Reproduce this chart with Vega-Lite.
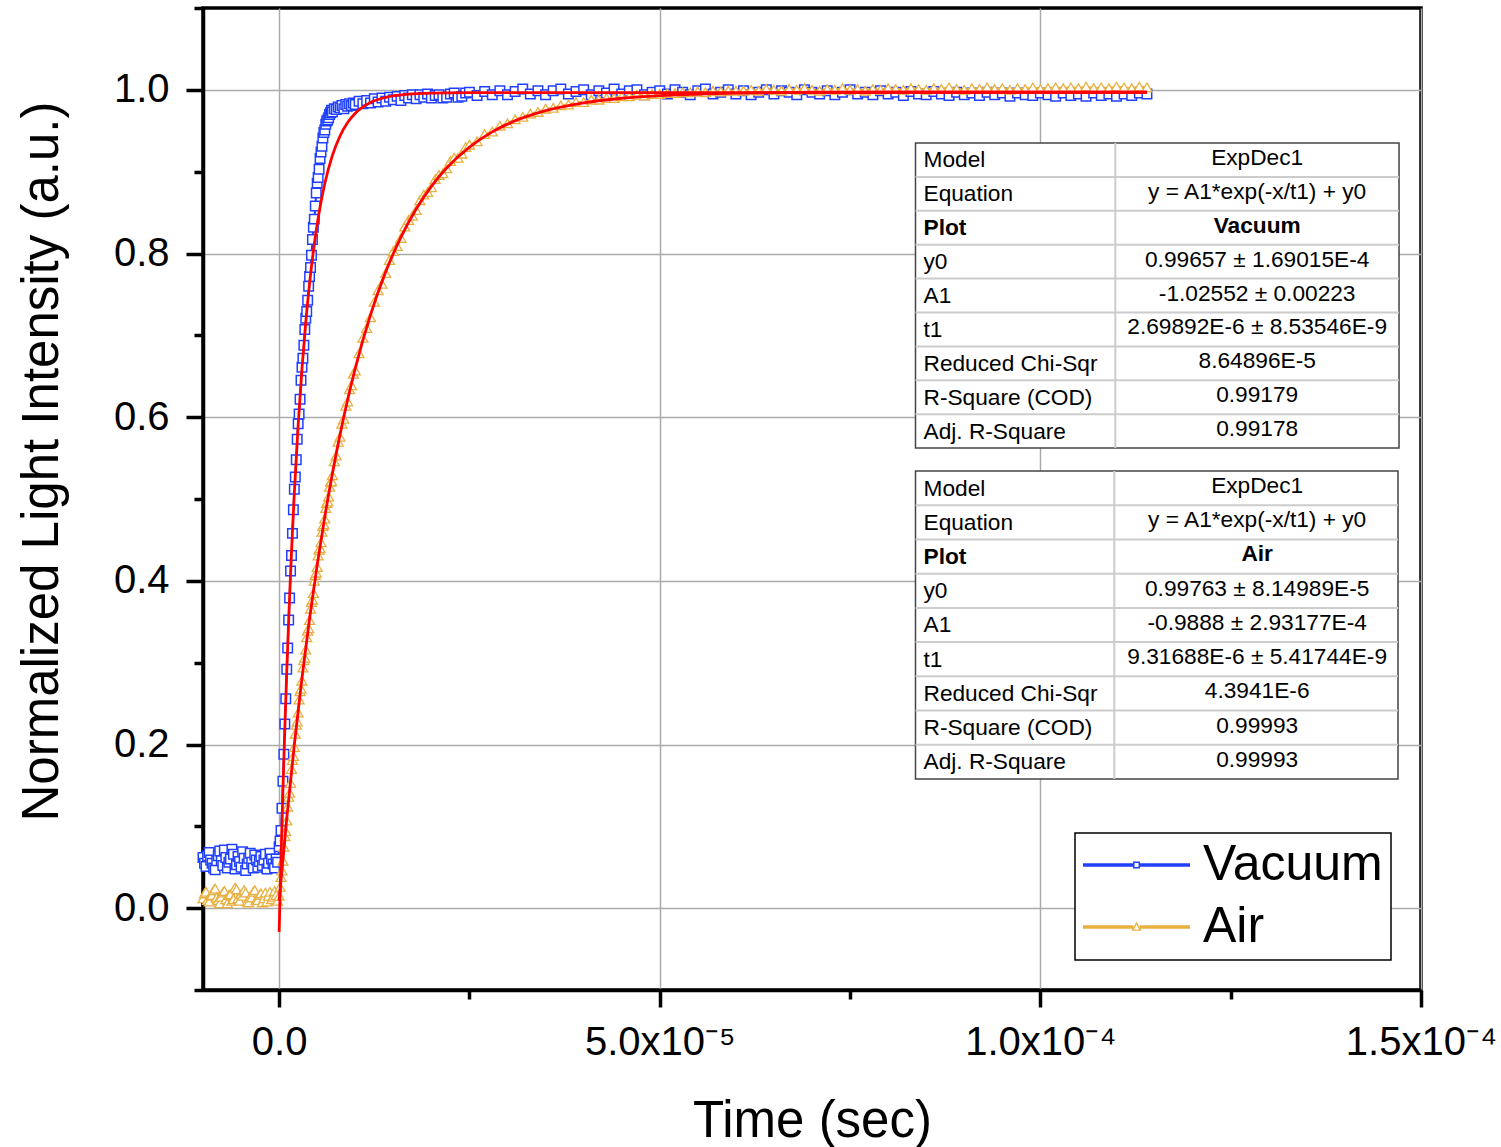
{
  "$schema": "https://vega.github.io/schema/vega-lite/v6.json",
  "width": 1218,
  "height": 982,
  "autosize": {"type": "none"},
  "padding": {"left": 203, "top": 8, "right": 80, "bottom": 157},
  "background": "white",
  "config": {
    "font": "Liberation Sans",
    "view": {"stroke": "black", "strokeWidth": 3.5},
    "axis": {
      "domainColor": "black",
      "domainWidth": 3.5,
      "tickColor": "black",
      "tickWidth": 3.5,
      "gridColor": "#ababab",
      "gridWidth": 1.5,
      "labelFont": "Liberation Sans",
      "labelFontSize": 40,
      "labelColor": "black",
      "titleFont": "Liberation Sans",
      "titleFontSize": 51,
      "titleFontWeight": "normal",
      "titleColor": "black",
      "labelOverlap": false,
      "labelFlush": false
    },
    "legend": {
      "strokeColor": "black",
      "strokeWidth": 1.5,
      "fillColor": "white",
      "padding": 8,
      "labelFont": "Liberation Sans",
      "labelLimit": 500
    }
  },
  "datasets": {
    "tbl": [
      {"plot": "Vacuum", "row": 0, "param": "Model", "value": "ExpDec1"},
      {"plot": "Vacuum", "row": 1, "param": "Equation", "value": "y = A1*exp(-x/t1) + y0"},
      {"plot": "Vacuum", "row": 2, "param": "Plot", "value": "Vacuum"},
      {"plot": "Vacuum", "row": 3, "param": "y0", "value": "0.99657 ± 1.69015E-4"},
      {"plot": "Vacuum", "row": 4, "param": "A1", "value": "-1.02552 ± 0.00223"},
      {"plot": "Vacuum", "row": 5, "param": "t1", "value": "2.69892E-6 ± 8.53546E-9"},
      {"plot": "Vacuum", "row": 6, "param": "Reduced Chi-Sqr", "value": "8.64896E-5"},
      {"plot": "Vacuum", "row": 7, "param": "R-Square (COD)", "value": "0.99179"},
      {"plot": "Vacuum", "row": 8, "param": "Adj. R-Square", "value": "0.99178"},
      {"plot": "Air", "row": 0, "param": "Model", "value": "ExpDec1"},
      {"plot": "Air", "row": 1, "param": "Equation", "value": "y = A1*exp(-x/t1) + y0"},
      {"plot": "Air", "row": 2, "param": "Plot", "value": "Air"},
      {"plot": "Air", "row": 3, "param": "y0", "value": "0.99763 ± 8.14989E-5"},
      {"plot": "Air", "row": 4, "param": "A1", "value": "-0.9888 ± 2.93177E-4"},
      {"plot": "Air", "row": 5, "param": "t1", "value": "9.31688E-6 ± 5.41744E-9"},
      {"plot": "Air", "row": 6, "param": "Reduced Chi-Sqr", "value": "4.3941E-6"},
      {"plot": "Air", "row": 7, "param": "R-Square (COD)", "value": "0.99993"},
      {"plot": "Air", "row": 8, "param": "Adj. R-Square", "value": "0.99993"}
    ]
  },
  "layer": [
    {
      "data": {"values": [
      {"t": -1.0e-5, "vacuum": 0.062, "air": 0.012},
      {"t": -9.8e-6, "vacuum": 0.055, "air": 0.018},
      {"t": -9.6e-6, "vacuum": 0.051, "air": 0.020},
      {"t": -9.4e-6, "vacuum": 0.064, "air": 0.010},
      {"t": -9.2e-6, "vacuum": 0.068, "air": 0.008},
      {"t": -9.0e-6, "vacuum": 0.059, "air": 0.015},
      {"t": -8.8e-6, "vacuum": 0.055, "air": 0.016},
      {"t": -8.6e-6, "vacuum": 0.049, "air": 0.022},
      {"t": -8.4e-6, "vacuum": 0.047, "air": 0.024},
      {"t": -8.2e-6, "vacuum": 0.058, "air": 0.013},
      {"t": -8.0e-6, "vacuum": 0.064, "air": 0.010},
      {"t": -7.8e-6, "vacuum": 0.070, "air": 0.006},
      {"t": -7.6e-6, "vacuum": 0.058, "air": 0.014},
      {"t": -7.4e-6, "vacuum": 0.052, "air": 0.019},
      {"t": -7.2e-6, "vacuum": 0.071, "air": 0.021},
      {"t": -7.0e-6, "vacuum": 0.062, "air": 0.011},
      {"t": -6.8e-6, "vacuum": 0.049, "air": 0.006},
      {"t": -6.6e-6, "vacuum": 0.056, "air": 0.016},
      {"t": -6.4e-6, "vacuum": 0.060, "air": 0.017},
      {"t": -6.2e-6, "vacuum": 0.072, "air": 0.009},
      {"t": -6.0e-6, "vacuum": 0.066, "air": 0.011},
      {"t": -5.8e-6, "vacuum": 0.048, "air": 0.025},
      {"t": -5.6e-6, "vacuum": 0.053, "air": 0.023},
      {"t": -5.4e-6, "vacuum": 0.063, "air": 0.012},
      {"t": -5.2e-6, "vacuum": 0.057, "air": 0.009},
      {"t": -5.0e-6, "vacuum": 0.050, "air": 0.017},
      {"t": -4.8e-6, "vacuum": 0.069, "air": 0.015},
      {"t": -4.6e-6, "vacuum": 0.061, "air": 0.022},
      {"t": -4.4e-6, "vacuum": 0.046, "air": 0.019},
      {"t": -4.2e-6, "vacuum": 0.054, "air": 0.008},
      {"t": -4.0e-6, "vacuum": 0.061, "air": 0.007},
      {"t": -3.8e-6, "vacuum": 0.067, "air": 0.014},
      {"t": -3.6e-6, "vacuum": 0.056, "air": 0.013},
      {"t": -3.4e-6, "vacuum": 0.049, "air": 0.020},
      {"t": -3.2e-6, "vacuum": 0.065, "air": 0.022},
      {"t": -3.0e-6, "vacuum": 0.059, "air": 0.010},
      {"t": -2.8e-6, "vacuum": 0.050, "air": 0.010},
      {"t": -2.6e-6, "vacuum": 0.057, "air": 0.016},
      {"t": -2.4e-6, "vacuum": 0.063, "air": 0.018},
      {"t": -2.2e-6, "vacuum": 0.052, "air": 0.007},
      {"t": -2.0e-6, "vacuum": 0.059, "air": 0.012},
      {"t": -1.8e-6, "vacuum": 0.066, "air": 0.019},
      {"t": -1.6e-6, "vacuum": 0.048, "air": 0.008},
      {"t": -1.4e-6, "vacuum": 0.055, "air": 0.015},
      {"t": -1.2e-6, "vacuum": 0.067, "air": 0.020},
      {"t": -1.0e-6, "vacuum": 0.060, "air": 0.011},
      {"t": -8.0e-7, "vacuum": 0.054, "air": 0.014},
      {"t": -6.0e-7, "vacuum": 0.049, "air": 0.021},
      {"t": -4.0e-7, "vacuum": 0.060, "air": 0.016},
      {"t": -2.0e-7, "vacuum": 0.056, "air": 0.009},
      {"t": 0.0, "vacuum": 0.075, "air": 0.015},
      {"t": 1.25e-7, "vacuum": 0.082, "air": 0.026},
      {"t": 2.5e-7, "vacuum": 0.095, "air": 0.038},
      {"t": 3.75e-7, "vacuum": 0.122, "air": 0.046},
      {"t": 5.0e-7, "vacuum": 0.155, "air": 0.058},
      {"t": 6.25e-7, "vacuum": 0.188, "air": 0.075},
      {"t": 7.5e-7, "vacuum": 0.225, "air": 0.088},
      {"t": 8.75e-7, "vacuum": 0.256, "air": 0.094},
      {"t": 1.0e-6, "vacuum": 0.292, "air": 0.107},
      {"t": 1.125e-6, "vacuum": 0.318, "air": 0.124},
      {"t": 1.25e-6, "vacuum": 0.352, "air": 0.136},
      {"t": 1.375e-6, "vacuum": 0.379, "air": 0.141},
      {"t": 1.5e-6, "vacuum": 0.412, "air": 0.153},
      {"t": 1.625e-6, "vacuum": 0.431, "air": 0.170},
      {"t": 1.75e-6, "vacuum": 0.458, "air": 0.181},
      {"t": 1.875e-6, "vacuum": 0.487, "air": 0.186},
      {"t": 2.0e-6, "vacuum": 0.512, "air": 0.197},
      {"t": 2.125e-6, "vacuum": 0.527, "air": 0.213},
      {"t": 2.25e-6, "vacuum": 0.548, "air": 0.224},
      {"t": 2.375e-6, "vacuum": 0.573, "air": 0.228},
      {"t": 2.5e-6, "vacuum": 0.592, "air": 0.239},
      {"t": 2.625e-6, "vacuum": 0.604, "air": 0.255},
      {"t": 2.75e-6, "vacuum": 0.622, "air": 0.265},
      {"t": 2.875e-6, "vacuum": 0.645, "air": 0.268},
      {"t": 3.0e-6, "vacuum": 0.661, "air": 0.278},
      {"t": 3.125e-6, "vacuum": 0.672, "air": 0.294},
      {"t": 3.25e-6, "vacuum": 0.688, "air": 0.303},
      {"t": 3.375e-6, "vacuum": 0.707, "air": 0.306},
      {"t": 3.5e-6, "vacuum": 0.721, "air": 0.316},
      {"t": 3.625e-6, "vacuum": 0.729, "air": 0.331},
      {"t": 3.75e-6, "vacuum": 0.743, "air": 0.339},
      {"t": 3.875e-6, "vacuum": 0.760, "air": 0.342},
      {"t": 4.0e-6, "vacuum": 0.772, "air": 0.352},
      {"t": 4.125e-6, "vacuum": 0.783, "air": 0.366},
      {"t": 4.25e-6, "vacuum": 0.798, "air": 0.374},
      {"t": 4.375e-6, "vacuum": 0.817, "air": 0.377},
      {"t": 4.5e-6, "vacuum": 0.832, "air": 0.385},
      {"t": 4.625e-6, "vacuum": 0.842, "air": 0.400},
      {"t": 4.75e-6, "vacuum": 0.858, "air": 0.407},
      {"t": 4.875e-6, "vacuum": 0.874, "air": 0.410},
      {"t": 5.0e-6, "vacuum": 0.886, "air": 0.417},
      {"t": 5.125e-6, "vacuum": 0.893, "air": 0.431},
      {"t": 5.25e-6, "vacuum": 0.903, "air": 0.438},
      {"t": 5.375e-6, "vacuum": 0.916, "air": 0.440},
      {"t": 5.5e-6, "vacuum": 0.924, "air": 0.447},
      {"t": 5.625e-6, "vacuum": 0.931, "air": 0.460},
      {"t": 5.75e-6, "vacuum": 0.941, "air": 0.467},
      {"t": 5.875e-6, "vacuum": 0.948, "air": 0.469},
      {"t": 6.0e-6, "vacuum": 0.951, "air": 0.476},
      {"t": 6.125e-6, "vacuum": 0.958, "air": 0.489},
      {"t": 6.25e-6, "vacuum": 0.962, "air": 0.495},
      {"t": 6.375e-6, "vacuum": 0.963, "air": 0.497},
      {"t": 6.5e-6, "vacuum": 0.966, "air": 0.503},
      {"t": 6.625e-6, "vacuum": 0.970, "air": 0.515},
      {"t": 6.75e-6, "vacuum": 0.972, "air": 0.521},
      {"t": 6.875e-6, "vacuum": 0.975, "air": 0.522},
      {"t": 7.0e-6, "vacuum": 0.973, "air": 0.529},
      {"t": 7.25e-6, "vacuum": 0.977, "air": 0.546},
      {"t": 7.5e-6, "vacuum": 0.976, "air": 0.553},
      {"t": 7.75e-6, "vacuum": 0.979, "air": 0.570},
      {"t": 8.0e-6, "vacuum": 0.978, "air": 0.576},
      {"t": 8.25e-6, "vacuum": 0.981, "air": 0.592},
      {"t": 8.5e-6, "vacuum": 0.977, "air": 0.598},
      {"t": 8.75e-6, "vacuum": 0.982, "air": 0.614},
      {"t": 9.0e-6, "vacuum": 0.980, "air": 0.619},
      {"t": 9.25e-6, "vacuum": 0.983, "air": 0.634},
      {"t": 9.5e-6, "vacuum": 0.981, "air": 0.639},
      {"t": 9.75e-6, "vacuum": 0.984, "air": 0.653},
      {"t": 1.0e-5, "vacuum": 0.982, "air": 0.657},
      {"t": 1.05e-5, "vacuum": 0.986, "air": 0.678},
      {"t": 1.1e-5, "vacuum": 0.983, "air": 0.697},
      {"t": 1.15e-5, "vacuum": 0.987, "air": 0.709},
      {"t": 1.2e-5, "vacuum": 0.984, "air": 0.722},
      {"t": 1.25e-5, "vacuum": 0.989, "air": 0.741},
      {"t": 1.3e-5, "vacuum": 0.985, "air": 0.755},
      {"t": 1.35e-5, "vacuum": 0.990, "air": 0.763},
      {"t": 1.4e-5, "vacuum": 0.986, "air": 0.776},
      {"t": 1.45e-5, "vacuum": 0.991, "air": 0.792},
      {"t": 1.5e-5, "vacuum": 0.988, "air": 0.803},
      {"t": 1.55e-5, "vacuum": 0.992, "air": 0.809},
      {"t": 1.6e-5, "vacuum": 0.987, "air": 0.819},
      {"t": 1.65e-5, "vacuum": 0.993, "air": 0.833},
      {"t": 1.7e-5, "vacuum": 0.990, "air": 0.841},
      {"t": 1.75e-5, "vacuum": 0.994, "air": 0.846},
      {"t": 1.8e-5, "vacuum": 0.989, "air": 0.853},
      {"t": 1.85e-5, "vacuum": 0.994, "air": 0.865},
      {"t": 1.9e-5, "vacuum": 0.991, "air": 0.872},
      {"t": 1.95e-5, "vacuum": 0.995, "air": 0.875},
      {"t": 2.0e-5, "vacuum": 0.990, "air": 0.881},
      {"t": 2.05e-5, "vacuum": 0.993, "air": 0.891},
      {"t": 2.1e-5, "vacuum": 0.994, "air": 0.896},
      {"t": 2.15e-5, "vacuum": 0.990, "air": 0.898},
      {"t": 2.2e-5, "vacuum": 0.991, "air": 0.904},
      {"t": 2.25e-5, "vacuum": 0.995, "air": 0.913},
      {"t": 2.3e-5, "vacuum": 0.996, "air": 0.917},
      {"t": 2.35e-5, "vacuum": 0.991, "air": 0.917},
      {"t": 2.4e-5, "vacuum": 0.992, "air": 0.922},
      {"t": 2.45e-5, "vacuum": 0.996, "air": 0.930},
      {"t": 2.5e-5, "vacuum": 0.997, "air": 0.933},
      {"t": 2.6e-5, "vacuum": 0.993, "air": 0.937},
      {"t": 2.7e-5, "vacuum": 0.998, "air": 0.946},
      {"t": 2.8e-5, "vacuum": 0.994, "air": 0.949},
      {"t": 2.9e-5, "vacuum": 0.999, "air": 0.956},
      {"t": 3.0e-5, "vacuum": 0.994, "air": 0.959},
      {"t": 3.1e-5, "vacuum": 0.998, "air": 0.964},
      {"t": 3.2e-5, "vacuum": 1.001, "air": 0.967},
      {"t": 3.3e-5, "vacuum": 0.995, "air": 0.971},
      {"t": 3.4e-5, "vacuum": 0.999, "air": 0.973},
      {"t": 3.5e-5, "vacuum": 0.994, "air": 0.977},
      {"t": 3.6e-5, "vacuum": 0.999, "air": 0.978},
      {"t": 3.7e-5, "vacuum": 1.001, "air": 0.981},
      {"t": 3.8e-5, "vacuum": 0.995, "air": 0.982},
      {"t": 3.9e-5, "vacuum": 0.998, "air": 0.985},
      {"t": 4.0e-5, "vacuum": 1.000, "air": 0.985},
      {"t": 4.1e-5, "vacuum": 0.994, "air": 0.988},
      {"t": 4.2e-5, "vacuum": 0.999, "air": 0.988},
      {"t": 4.3e-5, "vacuum": 0.996, "air": 0.990},
      {"t": 4.4e-5, "vacuum": 1.001, "air": 0.990},
      {"t": 4.5e-5, "vacuum": 0.995, "air": 0.992},
      {"t": 4.6e-5, "vacuum": 0.999, "air": 0.992},
      {"t": 4.7e-5, "vacuum": 1.000, "air": 0.994},
      {"t": 4.8e-5, "vacuum": 0.994, "air": 0.993},
      {"t": 4.9e-5, "vacuum": 0.997, "air": 0.995},
      {"t": 5.0e-5, "vacuum": 0.999, "air": 0.995},
      {"t": 5.1e-5, "vacuum": 0.995, "air": 0.996},
      {"t": 5.2e-5, "vacuum": 1.000, "air": 0.996},
      {"t": 5.3e-5, "vacuum": 0.997, "air": 0.997},
      {"t": 5.4e-5, "vacuum": 0.994, "air": 0.997},
      {"t": 5.5e-5, "vacuum": 0.999, "air": 0.998},
      {"t": 5.6e-5, "vacuum": 1.001, "air": 0.997},
      {"t": 5.7e-5, "vacuum": 0.995, "air": 0.999},
      {"t": 5.8e-5, "vacuum": 0.997, "air": 0.998},
      {"t": 5.9e-5, "vacuum": 1.000, "air": 0.999},
      {"t": 6.0e-5, "vacuum": 0.995, "air": 0.999},
      {"t": 6.1e-5, "vacuum": 0.999, "air": 0.999},
      {"t": 6.2e-5, "vacuum": 0.994, "air": 1.000},
      {"t": 6.3e-5, "vacuum": 0.997, "air": 0.999},
      {"t": 6.4e-5, "vacuum": 1.000, "air": 1.001},
      {"t": 6.5e-5, "vacuum": 0.995, "air": 1.000},
      {"t": 6.6e-5, "vacuum": 0.999, "air": 0.999},
      {"t": 6.7e-5, "vacuum": 0.997, "air": 1.001},
      {"t": 6.8e-5, "vacuum": 0.994, "air": 1.000},
      {"t": 6.9e-5, "vacuum": 1.000, "air": 1.002},
      {"t": 7.0e-5, "vacuum": 0.997, "air": 1.000},
      {"t": 7.1e-5, "vacuum": 0.995, "air": 0.999},
      {"t": 7.2e-5, "vacuum": 0.999, "air": 1.001},
      {"t": 7.3e-5, "vacuum": 0.994, "air": 1.000},
      {"t": 7.4e-5, "vacuum": 0.997, "air": 1.002},
      {"t": 7.5e-5, "vacuum": 1.000, "air": 1.000},
      {"t": 7.6e-5, "vacuum": 0.995, "air": 1.001},
      {"t": 7.7e-5, "vacuum": 0.997, "air": 0.999},
      {"t": 7.8e-5, "vacuum": 0.994, "air": 1.001},
      {"t": 7.9e-5, "vacuum": 0.999, "air": 1.000},
      {"t": 8.0e-5, "vacuum": 0.995, "air": 1.002},
      {"t": 8.1e-5, "vacuum": 0.997, "air": 1.001},
      {"t": 8.2e-5, "vacuum": 0.993, "air": 1.000},
      {"t": 8.3e-5, "vacuum": 0.998, "air": 1.002},
      {"t": 8.4e-5, "vacuum": 0.995, "air": 1.001},
      {"t": 8.5e-5, "vacuum": 0.994, "air": 1.000},
      {"t": 8.6e-5, "vacuum": 0.998, "air": 1.002},
      {"t": 8.7e-5, "vacuum": 0.995, "air": 1.001},
      {"t": 8.8e-5, "vacuum": 0.993, "air": 1.003},
      {"t": 8.9e-5, "vacuum": 0.997, "air": 1.001},
      {"t": 9.0e-5, "vacuum": 0.994, "air": 1.000},
      {"t": 9.1e-5, "vacuum": 0.996, "air": 1.002},
      {"t": 9.2e-5, "vacuum": 0.993, "air": 1.001},
      {"t": 9.3e-5, "vacuum": 0.997, "air": 1.003},
      {"t": 9.4e-5, "vacuum": 0.994, "air": 1.001},
      {"t": 9.5e-5, "vacuum": 0.996, "air": 1.002},
      {"t": 9.6e-5, "vacuum": 0.992, "air": 1.000},
      {"t": 9.7e-5, "vacuum": 0.996, "air": 1.002},
      {"t": 9.8e-5, "vacuum": 0.994, "air": 1.001},
      {"t": 9.9e-5, "vacuum": 0.993, "air": 1.003},
      {"t": 1.0e-4, "vacuum": 0.996, "air": 1.001},
      {"t": 1.01e-4, "vacuum": 0.994, "air": 1.002},
      {"t": 1.02e-4, "vacuum": 0.992, "air": 1.003},
      {"t": 1.03e-4, "vacuum": 0.996, "air": 1.002},
      {"t": 1.04e-4, "vacuum": 0.993, "air": 1.003},
      {"t": 1.05e-4, "vacuum": 0.995, "air": 1.002},
      {"t": 1.06e-4, "vacuum": 0.992, "air": 1.004},
      {"t": 1.07e-4, "vacuum": 0.996, "air": 1.002},
      {"t": 1.08e-4, "vacuum": 0.993, "air": 1.003},
      {"t": 1.09e-4, "vacuum": 0.995, "air": 1.002},
      {"t": 1.1e-4, "vacuum": 0.992, "air": 1.004},
      {"t": 1.11e-4, "vacuum": 0.995, "air": 1.003},
      {"t": 1.12e-4, "vacuum": 0.993, "air": 1.002},
      {"t": 1.13e-4, "vacuum": 0.996, "air": 1.004},
      {"t": 1.14e-4, "vacuum": 0.995, "air": 1.003}
      ]},
      "encoding": {
        "x": {
          "field": "t",
          "type": "quantitative",
          "title": "Time (sec)",
          "scale": {"domain": [-1e-5, 1.5e-4], "nice": false, "zero": false},
          "axis": {
            "values": [0, 2.5e-5, 5e-5, 7.5e-5, 1e-4, 1.25e-4, 1.5e-4],
            "labelExpr": "abs(datum.value) < 1e-9 ? '0.0' : abs(datum.value - 5e-5) < 1e-9 ? '5.0x10⁻⁵' : abs(datum.value - 1e-4) < 1e-9 ? '1.0x10⁻⁴' : abs(datum.value - 1.5e-4) < 1e-9 ? '1.5x10⁻⁴' : ''",
            "tickSize": {"condition": {"test": "abs(datum.value / 5e-5 - round(datum.value / 5e-5)) < 0.01", "value": 17}, "value": 9},
            "gridOpacity": {"condition": {"test": "abs(datum.value / 5e-5 - round(datum.value / 5e-5)) < 0.01", "value": 1}, "value": 0},
            "labelPadding": 15,
            "titlePadding": 34
          }
        },
        "y": {
          "type": "quantitative",
          "title": "Normalized Light Intensity (a.u.)",
          "scale": {"domain": [-0.1, 1.1], "nice": false, "zero": false},
          "axis": {
            "values": [-0.1, 0, 0.1, 0.2, 0.3, 0.4, 0.5, 0.6, 0.7, 0.8, 0.9, 1.0, 1.1],
            "labelExpr": "abs(datum.value / 0.2 - round(datum.value / 0.2)) < 0.01 ? format(datum.value, '.1f') : ''",
            "tickSize": {"condition": {"test": "abs(datum.value / 0.2 - round(datum.value / 0.2)) < 0.01", "value": 17}, "value": 9},
            "gridOpacity": {"condition": {"test": "abs(datum.value / 0.2 - round(datum.value / 0.2)) < 0.01", "value": 1}, "value": 0},
            "labelPadding": 17,
            "titlePadding": 45,
            "titleY": 453
          }
        }
      },
      "layer": [
        {
          "mark": {"type": "line", "color": "#2040ff", "strokeWidth": 2},
          "encoding": {"y": {"field": "vacuum"}}
        },
        {
          "mark": {"type": "point", "shape": "square", "filled": true, "fill": "white", "stroke": "#2040ff", "strokeWidth": 1.5, "size": 90, "opacity": 1},
          "encoding": {"y": {"field": "vacuum"}}
        },
        {
          "mark": {"type": "line", "color": "#e8b040", "strokeWidth": 2},
          "encoding": {"y": {"field": "air"}}
        },
        {
          "mark": {"type": "point", "shape": "triangle-up", "filled": true, "fill": "white", "stroke": "#e8b040", "strokeWidth": 1.3, "size": 100, "opacity": 1},
          "encoding": {"y": {"field": "air"}}
        },
        {
          "data": {"values": [
            {"plot": "Vacuum", "t": 0.0, "y": -0.0290},
            {"plot": "Vacuum", "t": 2.5e-7, "y": 0.0618},
            {"plot": "Vacuum", "t": 5.0e-7, "y": 0.1445},
            {"plot": "Vacuum", "t": 7.5e-7, "y": 0.2199},
            {"plot": "Vacuum", "t": 1.0e-6, "y": 0.2886},
            {"plot": "Vacuum", "t": 1.25e-6, "y": 0.3512},
            {"plot": "Vacuum", "t": 1.5e-6, "y": 0.4083},
            {"plot": "Vacuum", "t": 1.75e-6, "y": 0.4604},
            {"plot": "Vacuum", "t": 2.0e-6, "y": 0.5078},
            {"plot": "Vacuum", "t": 2.5e-6, "y": 0.5904},
            {"plot": "Vacuum", "t": 3.0e-6, "y": 0.6591},
            {"plot": "Vacuum", "t": 3.5e-6, "y": 0.7162},
            {"plot": "Vacuum", "t": 4.0e-6, "y": 0.7636},
            {"plot": "Vacuum", "t": 4.5e-6, "y": 0.8030},
            {"plot": "Vacuum", "t": 5.0e-6, "y": 0.8358},
            {"plot": "Vacuum", "t": 5.5e-6, "y": 0.8629},
            {"plot": "Vacuum", "t": 6.0e-6, "y": 0.8855},
            {"plot": "Vacuum", "t": 7.0e-6, "y": 0.9199},
            {"plot": "Vacuum", "t": 8.0e-6, "y": 0.9436},
            {"plot": "Vacuum", "t": 9.0e-6, "y": 0.9600},
            {"plot": "Vacuum", "t": 1.0e-5, "y": 0.9714},
            {"plot": "Vacuum", "t": 1.2e-5, "y": 0.9846},
            {"plot": "Vacuum", "t": 1.4e-5, "y": 0.9908},
            {"plot": "Vacuum", "t": 1.7e-5, "y": 0.9947},
            {"plot": "Vacuum", "t": 2.0e-5, "y": 0.9960},
            {"plot": "Vacuum", "t": 2.5e-5, "y": 0.9965},
            {"plot": "Vacuum", "t": 3.0e-5, "y": 0.9966},
            {"plot": "Vacuum", "t": 1.14e-4, "y": 0.9966},
            {"plot": "Air", "t": 0.0, "y": 0.0088},
            {"plot": "Air", "t": 1.0e-6, "y": 0.1095},
            {"plot": "Air", "t": 2.0e-6, "y": 0.1999},
            {"plot": "Air", "t": 3.0e-6, "y": 0.2810},
            {"plot": "Air", "t": 4.0e-6, "y": 0.3540},
            {"plot": "Air", "t": 5.0e-6, "y": 0.4195},
            {"plot": "Air", "t": 6.0e-6, "y": 0.4783},
            {"plot": "Air", "t": 7.0e-6, "y": 0.5312},
            {"plot": "Air", "t": 8.0e-6, "y": 0.5787},
            {"plot": "Air", "t": 9.0e-6, "y": 0.6213},
            {"plot": "Air", "t": 1.0e-5, "y": 0.6596},
            {"plot": "Air", "t": 1.2e-5, "y": 0.7250},
            {"plot": "Air", "t": 1.4e-5, "y": 0.7776},
            {"plot": "Air", "t": 1.6e-5, "y": 0.8201},
            {"plot": "Air", "t": 1.8e-5, "y": 0.8544},
            {"plot": "Air", "t": 2.0e-5, "y": 0.8821},
            {"plot": "Air", "t": 2.2e-5, "y": 0.9044},
            {"plot": "Air", "t": 2.5e-5, "y": 0.9300},
            {"plot": "Air", "t": 2.8e-5, "y": 0.9486},
            {"plot": "Air", "t": 3.0e-5, "y": 0.9581},
            {"plot": "Air", "t": 3.5e-5, "y": 0.9745},
            {"plot": "Air", "t": 4.0e-5, "y": 0.9841},
            {"plot": "Air", "t": 4.5e-5, "y": 0.9897},
            {"plot": "Air", "t": 5.0e-5, "y": 0.9930},
            {"plot": "Air", "t": 5.5e-5, "y": 0.9949},
            {"plot": "Air", "t": 6.0e-5, "y": 0.9960},
            {"plot": "Air", "t": 7.0e-5, "y": 0.9971},
            {"plot": "Air", "t": 8.0e-5, "y": 0.9975},
            {"plot": "Air", "t": 9.0e-5, "y": 0.9976},
            {"plot": "Air", "t": 1.14e-4, "y": 0.9976}
          ]},
          "mark": {"type": "line", "color": "#ff0000", "strokeWidth": 2.8, "interpolate": "monotone"},
          "encoding": {"y": {"field": "y"}, "detail": {"field": "plot"}}
        },
        {
          "data": {"values": [{"series": "Vacuum"}, {"series": "Air"}]},
          "transform": [{"filter": "false"}],
          "mark": {"type": "point", "filled": true, "opacity": 0},
          "encoding": {
            "color": {
              "field": "series", "type": "nominal",
              "scale": {"domain": ["Vacuum", "Air"], "range": ["#2040ff", "#e8b040"]},
              "legend": {"title": null, "orient": "bottom-right", "offset": 30, "symbolSize": 11449, "symbolStrokeWidth": 0, "symbolOpacity": 1, "labelFontSize": 50, "labelColor": "black", "labelOffset": 13, "rowPadding": 12, "clipHeight": 48, "labelLimit": 500}
            },
            "shape": {
              "field": "series", "type": "nominal",
              "scale": {"domain": ["Vacuum", "Air"], "range": [
                "M-1,-0.033H-0.065V0.033H-1Z M0.065,-0.033H1V0.033H0.065Z M-0.065,-0.065H0.065V0.065H-0.065Z M-0.037,-0.037V0.037H0.037V-0.037Z",
                "M-1,-0.033H-0.06V0.033H-1Z M0.06,-0.033H1V0.033H0.06Z M0,-0.1L0.095,0.07H-0.095Z M0,-0.045L-0.05,0.045H0.05Z"
              ]},
              "legend": {"title": null, "orient": "bottom-right", "offset": 30, "symbolSize": 11449, "symbolStrokeWidth": 0, "symbolOpacity": 1, "labelFontSize": 50, "labelColor": "black", "labelOffset": 13, "rowPadding": 12, "clipHeight": 48, "labelLimit": 500}
            }
          }
        }
      ]
    },
    {
      "layer": [
        {
          "data": {"values": [{"box": "Vacuum"}]},
          "mark": {"type": "rect", "fill": "white", "stroke": "#444444", "strokeWidth": 1.5},
          "encoding": {
            "x": {"datum": 8.3596e-5, "type": "quantitative"},
            "x2": {"datum": 1.47113e-4},
            "y": {"datum": 0, "type": "quantitative", "scale": {"domain": [-3.982, 24.985], "reverse": true, "nice": false, "zero": false}, "axis": null},
            "y2": {"datum": 9}
          }
        },
        {
          "data": {"name": "tbl"},
          "transform": [{"filter": "datum.plot == 'Vacuum' && datum.row > 0"}],
          "mark": {"type": "rule", "color": "#cccccc", "strokeWidth": 2},
          "encoding": {
            "x": {"datum": 8.3596e-5, "type": "quantitative"},
            "x2": {"datum": 1.47113e-4},
            "y": {"field": "row", "type": "quantitative", "scale": {"domain": [-3.982, 24.985], "reverse": true, "nice": false, "zero": false}, "axis": null}
          }
        },
        {
          "data": {"values": [{"box": "Vacuum"}]},
          "mark": {"type": "rule", "color": "#cccccc", "strokeWidth": 2},
          "encoding": {
            "x": {"datum": 1.09843e-4, "type": "quantitative"},
            "y": {"datum": 0, "type": "quantitative", "scale": {"domain": [-3.982, 24.985], "reverse": true, "nice": false, "zero": false}, "axis": null},
            "y2": {"datum": 9}
          }
        },
        {
          "data": {"name": "tbl"},
          "transform": [{"filter": "datum.plot == 'Vacuum' && datum.row != 2"}],
          "mark": {"type": "text", "align": "left", "baseline": "middle", "dy": 17.5, "fontSize": 22.7, "color": "black"},
          "encoding": {
            "x": {"datum": 8.4646e-5, "type": "quantitative"},
            "y": {"field": "row", "type": "quantitative", "scale": {"domain": [-3.982, 24.985], "reverse": true, "nice": false, "zero": false}, "axis": null},
            "text": {"field": "param"}
          }
        },
        {
          "data": {"name": "tbl"},
          "transform": [{"filter": "datum.plot == 'Vacuum' && datum.row != 2"}],
          "mark": {"type": "text", "align": "center", "baseline": "middle", "dy": 15, "fontSize": 22.7, "color": "black"},
          "encoding": {
            "x": {"datum": 1.28478e-4, "type": "quantitative"},
            "y": {"field": "row", "type": "quantitative", "scale": {"domain": [-3.982, 24.985], "reverse": true, "nice": false, "zero": false}, "axis": null},
            "text": {"field": "value"}
          }
        },
        {
          "data": {"name": "tbl"},
          "transform": [{"filter": "datum.plot == 'Vacuum' && datum.row == 2"}],
          "mark": {"type": "text", "align": "left", "baseline": "middle", "dy": 17.5, "fontSize": 22.7, "fontWeight": "bold", "color": "black"},
          "encoding": {
            "x": {"datum": 8.4646e-5, "type": "quantitative"},
            "y": {"field": "row", "type": "quantitative", "scale": {"domain": [-3.982, 24.985], "reverse": true, "nice": false, "zero": false}, "axis": null},
            "text": {"field": "param"}
          }
        },
        {
          "data": {"name": "tbl"},
          "transform": [{"filter": "datum.plot == 'Vacuum' && datum.row == 2"}],
          "mark": {"type": "text", "align": "center", "baseline": "middle", "dy": 15, "fontSize": 22.7, "fontWeight": "bold", "color": "black"},
          "encoding": {
            "x": {"datum": 1.28478e-4, "type": "quantitative"},
            "y": {"field": "row", "type": "quantitative", "scale": {"domain": [-3.982, 24.985], "reverse": true, "nice": false, "zero": false}, "axis": null},
            "text": {"field": "value"}
          }
        }
      ]
    },
    {
      "layer": [
        {
          "data": {"values": [{"box": "Air"}]},
          "mark": {"type": "rect", "fill": "white", "stroke": "#444444", "strokeWidth": 1.5},
          "encoding": {
            "x": {"datum": 8.3596e-5, "type": "quantitative"},
            "x2": {"datum": 1.4698e-4},
            "y": {"datum": 0, "type": "quantitative", "scale": {"domain": [-13.530, 15.166], "reverse": true, "nice": false, "zero": false}, "axis": null},
            "y2": {"datum": 9}
          }
        },
        {
          "data": {"name": "tbl"},
          "transform": [{"filter": "datum.plot == 'Air' && datum.row > 0"}],
          "mark": {"type": "rule", "color": "#cccccc", "strokeWidth": 2},
          "encoding": {
            "x": {"datum": 8.3596e-5, "type": "quantitative"},
            "x2": {"datum": 1.4698e-4},
            "y": {"field": "row", "type": "quantitative", "scale": {"domain": [-13.530, 15.166], "reverse": true, "nice": false, "zero": false}, "axis": null}
          }
        },
        {
          "data": {"values": [{"box": "Air"}]},
          "mark": {"type": "rule", "color": "#cccccc", "strokeWidth": 2},
          "encoding": {
            "x": {"datum": 1.0971e-4, "type": "quantitative"},
            "y": {"datum": 0, "type": "quantitative", "scale": {"domain": [-13.530, 15.166], "reverse": true, "nice": false, "zero": false}, "axis": null},
            "y2": {"datum": 9}
          }
        },
        {
          "data": {"name": "tbl"},
          "transform": [{"filter": "datum.plot == 'Air' && datum.row != 2"}],
          "mark": {"type": "text", "align": "left", "baseline": "middle", "dy": 17.5, "fontSize": 22.7, "color": "black"},
          "encoding": {
            "x": {"datum": 8.4646e-5, "type": "quantitative"},
            "y": {"field": "row", "type": "quantitative", "scale": {"domain": [-13.530, 15.166], "reverse": true, "nice": false, "zero": false}, "axis": null},
            "text": {"field": "param"}
          }
        },
        {
          "data": {"name": "tbl"},
          "transform": [{"filter": "datum.plot == 'Air' && datum.row != 2"}],
          "mark": {"type": "text", "align": "center", "baseline": "middle", "dy": 15, "fontSize": 22.7, "color": "black"},
          "encoding": {
            "x": {"datum": 1.28478e-4, "type": "quantitative"},
            "y": {"field": "row", "type": "quantitative", "scale": {"domain": [-13.530, 15.166], "reverse": true, "nice": false, "zero": false}, "axis": null},
            "text": {"field": "value"}
          }
        },
        {
          "data": {"name": "tbl"},
          "transform": [{"filter": "datum.plot == 'Air' && datum.row == 2"}],
          "mark": {"type": "text", "align": "left", "baseline": "middle", "dy": 17.5, "fontSize": 22.7, "fontWeight": "bold", "color": "black"},
          "encoding": {
            "x": {"datum": 8.4646e-5, "type": "quantitative"},
            "y": {"field": "row", "type": "quantitative", "scale": {"domain": [-13.530, 15.166], "reverse": true, "nice": false, "zero": false}, "axis": null},
            "text": {"field": "param"}
          }
        },
        {
          "data": {"name": "tbl"},
          "transform": [{"filter": "datum.plot == 'Air' && datum.row == 2"}],
          "mark": {"type": "text", "align": "center", "baseline": "middle", "dy": 15, "fontSize": 22.7, "fontWeight": "bold", "color": "black"},
          "encoding": {
            "x": {"datum": 1.28478e-4, "type": "quantitative"},
            "y": {"field": "row", "type": "quantitative", "scale": {"domain": [-13.530, 15.166], "reverse": true, "nice": false, "zero": false}, "axis": null},
            "text": {"field": "value"}
          }
        }
      ]
    }
  ],
  "resolve": {"scale": {"y": "independent"}}
}
